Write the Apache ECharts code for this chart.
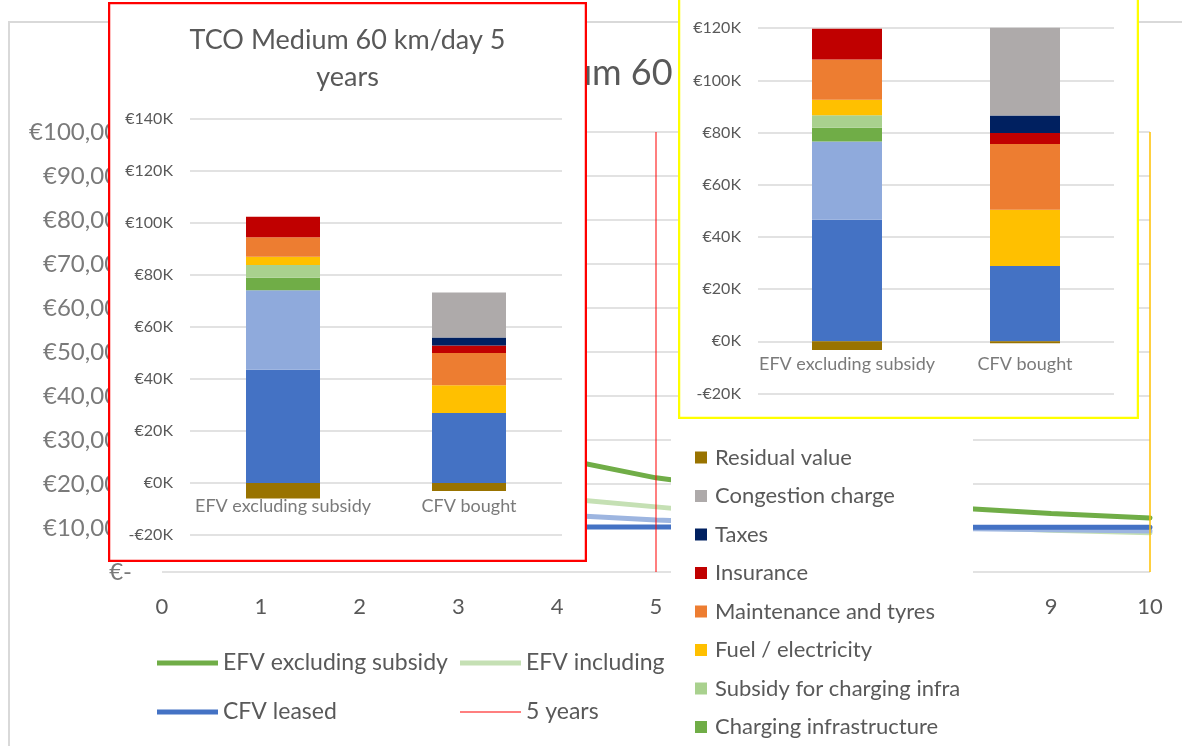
<!DOCTYPE html>
<html>
<head>
<meta charset="utf-8">
<script src="https://cdn.jsdelivr.net/npm/echarts@6/dist/echarts.min.js"></script>
<style>
  html, body { margin: 0; padding: 0; width: 1182px; height: 746px; overflow: hidden; background: #fff; }
  .pane { position: absolute; }
  #main  { left: 0; top: 0; width: 1182px; height: 746px; }
  #tco5  { left: 108px; top: 2px; width: 479px; height: 560px; }
  #tco10 { left: 678px; top: -60px; width: 461px; height: 479px; }
  #keys  { left: 671px; top: 425px; width: 302px; height: 470px; }
</style>
</head>
<body>
<div id="main" class="pane"></div>
<div id="tco5" class="pane"></div>
<div id="tco10" class="pane"></div>
<div id="keys" class="pane"></div>
<script>
// ---------- Annual TCO per year of ownership (EUR) ----------
const years = [1, 2, 3, 4, 5, 6, 7, 8, 9, 10];
const efvExcludingSubsidy = [94200, 48700, 33500, 25900, 21400, 18400, 16200, 14600, 13300, 12300];
const efvIncludingSubsidy = [62000, 32500, 22600, 16800, 14800, 12800, 11400, 10300, 9500, 8900];
const cfvBought           = [31800, 19300, 15100, 13000, 11800, 11000, 10400, 9900, 9600, 9300];
const cfvLeased           = [10300, 10300, 10250, 10250, 10200, 10200, 10200, 10150, 10150, 10150];
const horizonMarkers = [5, 10];            // ownership periods shown as vertical lines
const annualAxisMax = 100000;
const annualAxisStep = 10000;
const yearTicks = [0, 1, 2, 3, 4, 5, 6, 7, 8, 9, 10];

// ---------- TCO breakdown (thousand EUR) ----------
const vehicleCategories = ['EFV excluding subsidy', 'CFV bought'];
const componentNames = [
  'Vehicle purchase', 'Battery', 'Charging infrastructure', 'Subsidy for charging infra',
  'Fuel / electricity', 'Maintenance and tyres', 'Insurance', 'Taxes', 'Congestion charge', 'Residual value'
];
// 5 years
const vehicle5     = [43.6, 26.9];
const battery5     = [30.5, 0];
const charging5    = [4.8, 0];
const subsidy5     = [4.9, 0];
const fuel5        = [3.2, 10.7];
const maintenance5 = [7.5, 12.4];
const insurance5   = [7.9, 2.9];
const taxes5       = [0, 3.1];
const congestion5  = [0, 17.3];
const residual5    = [-6.0, -3.1];
// 10 years
const vehicle10     = [46.6, 28.9];
const battery10     = [30.0, 0];
const charging10    = [5.2, 0];
const subsidy10     = [4.8, 0];
const fuel10        = [6.0, 21.5];
const maintenance10 = [15.4, 25.2];
const insurance10   = [11.8, 4.2];
const taxes10       = [0, 6.7];
const congestion10  = [0, 33.7];
const residual10    = [-3.3, -0.7];
const tcoAxisTicks = { min: -20, max: 140, step: 20 };

const componentColors = {
  'Vehicle purchase': '#4472C4',
  'Battery': '#8FAADC',
  'Charging infrastructure': '#70AD47',
  'Subsidy for charging infra': '#A9D18E',
  'Fuel / electricity': '#FFC000',
  'Maintenance and tyres': '#ED7D31',
  'Insurance': '#C00000',
  'Taxes': '#002060',
  'Congestion charge': '#AEAAAA',
  'Residual value': '#997300'
};

const FONT = 'Lato, "Open Sans", sans-serif';
const TEXT = '#595959';
const GRID = '#d9d9d9';

// Width of a string rendered in the chart font.
function textWidth(text, size) {
  const ctx = document.createElement('canvas').getContext('2d');
  ctx.font = 'normal normal ' + size + 'px ' + FONT;
  return ctx.measureText(text).width;
}

// ---------- Line chart: annual cost by years of ownership ----------
const pairs = vals => years.map((y, i) => [y, vals[i]]);
const verticalMarker = x => [[x, 0], [x, annualAxisMax]];
const euro = v => v === 0 ? '€-' : '€' + v.toLocaleString('en-US');

// The main title runs behind the two breakdown panels; its visible middle
// part starts just right of the left panel.
const mainTitle = 'TCO Medium 60 km/day';
const mainTitleSize = 36;
const titleLeft = () => Math.max(
  592 - textWidth('TCO Mediu', mainTitleSize),
  680 - textWidth('TCO Medium 60 ', mainTitleSize)
);

const thickIcon = 'path://M0,0H61V5H0Z';
const thinIcon = 'path://M0,0H61V2H0Z';

const main = echarts.init(document.getElementById('main'), null, { renderer: 'canvas' });
main.setOption({
  animation: false,
  backgroundColor: '#fff',
  title: {
    text: mainTitle,
    left: titleLeft(), top: 55, padding: 0,
    textStyle: { fontFamily: FONT, fontSize: mainTitleSize, fontWeight: 'normal', color: TEXT }
  },
  graphic: [{
    type: 'rect', z: -1,
    shape: { x: 9, y: 22, width: 1200, height: 760 },
    style: { fill: 'none', stroke: GRID, lineWidth: 2 }
  }],
  grid: { left: 162, right: 32, top: 132, bottom: 174 },
  xAxis: {
    type: 'value', min: yearTicks[0], max: yearTicks[yearTicks.length - 1], interval: 1,
    axisLine: { show: false }, axisTick: { show: false }, splitLine: { show: false },
    axisLabel: { fontFamily: FONT, fontSize: 22, color: TEXT, margin: 24 }
  },
  yAxis: {
    type: 'value', min: 0, max: annualAxisMax, interval: annualAxisStep,
    axisLine: { show: false }, axisTick: { show: false },
    splitLine: { lineStyle: { color: GRID, width: 1.5 } },
    axisLabel: { fontFamily: FONT, fontSize: 24, color: '#7a7a7a', margin: 30, formatter: euro }
  },
  legend: {
    data: [
      { name: 'EFV excluding subsidy', icon: thickIcon },
      { name: 'EFV including subsidy', icon: thickIcon },
      { name: 'CFV bought', icon: thickIcon },
      { name: 'CFV leased', icon: thickIcon },
      { name: '5 years', icon: thinIcon },
      { name: '10 years', icon: thinIcon }
    ],
    left: 157, top: 641, width: 910, padding: 0,
    itemWidth: 61, itemHeight: 14, itemGap: 5, symbolKeepAspect: true,
    selectedMode: false,
    textStyle: { fontFamily: FONT, fontSize: 23, color: TEXT, width: 232, overflow: 'truncate', lineHeight: 44 }
  },
  series: [
    { name: 'EFV excluding subsidy', type: 'line', symbol: 'none', data: pairs(efvExcludingSubsidy),
      lineStyle: { width: 5, color: '#70AD47', cap: 'round' }, itemStyle: { color: '#70AD47' } },
    { name: 'EFV including subsidy', type: 'line', symbol: 'none', data: pairs(efvIncludingSubsidy),
      lineStyle: { width: 5, color: '#C5E0B4', cap: 'round' }, itemStyle: { color: '#C5E0B4' } },
    { name: 'CFV bought', type: 'line', symbol: 'none', data: pairs(cfvBought),
      lineStyle: { width: 5, color: '#9DB5E0', cap: 'round' }, itemStyle: { color: '#9DB5E0' } },
    { name: 'CFV leased', type: 'line', symbol: 'none', data: pairs(cfvLeased),
      lineStyle: { width: 5, color: '#4472C4', cap: 'round' }, itemStyle: { color: '#4472C4' } },
    { name: '5 years', type: 'line', symbol: 'none', clip: false, data: verticalMarker(horizonMarkers[0]),
      lineStyle: { width: 2, color: 'rgba(255,0,0,0.5)' }, itemStyle: { color: 'rgba(255,0,0,0.5)' } },
    { name: '10 years', type: 'line', symbol: 'none', clip: false, data: verticalMarker(horizonMarkers[1]),
      lineStyle: { width: 2, color: 'rgba(255,192,0,0.75)' }, itemStyle: { color: 'rgba(255,192,0,0.75)' } }
  ]
});

// Re-measure once the font face is ready, so the title lands where intended.
if (document.fonts && document.fonts.load) {
  document.fonts.load(mainTitleSize + 'px Lato', 'TCO Medium').then(() => {
    main.setOption({ title: { left: titleLeft() } });
  });
}

// ---------- Stacked TCO breakdown charts ----------
const kEuro = v => (v < 0 ? '-' : '') + '€' + Math.abs(v) + 'K';

function breakdownOption(parts, opts) {
  const series = componentNames.map((name, i) => ({
    name, type: 'bar', stack: 'tco', barWidth: opts.barWidth,
    data: parts[i],
    itemStyle: { color: componentColors[name] }
  }));
  // Category names sit just under the zero line, as in the spreadsheet original.
  series.push({
    type: 'scatter', silent: true, symbol: 'rect', symbolSize: 1,
    itemStyle: { color: 'rgba(0,0,0,0)' },
    data: vehicleCategories.map(c => [c, 0]),
    label: {
      show: true, position: 'bottom', distance: opts.labelGap,
      formatter: p => vehicleCategories[p.dataIndex],
      fontFamily: FONT, fontSize: 18, color: TEXT
    },
    z: 5
  });
  const option = {
    animation: false,
    backgroundColor: '#fff',
    graphic: [{
      type: 'rect', z: 100,
      shape: { x: 1, y: 1, width: opts.width - 2, height: opts.height - 2 },
      style: { fill: 'none', stroke: opts.border, lineWidth: 2.5 }
    }],
    grid: opts.grid,
    xAxis: {
      type: 'category', data: vehicleCategories,
      axisLine: { show: false }, axisTick: { show: false }, axisLabel: { show: false }
    },
    yAxis: {
      type: 'value', min: tcoAxisTicks.min, max: tcoAxisTicks.max, interval: tcoAxisTicks.step,
      axisLine: { show: false }, axisTick: { show: false },
      splitLine: { lineStyle: { color: GRID, width: 1.5 } },
      axisLabel: { fontFamily: FONT, fontSize: 16, color: TEXT, margin: 17, formatter: kEuro }
    },
    series
  };
  if (opts.title) {
    option.title = {
      text: opts.title, left: 'center', top: 15,
      textStyle: { fontFamily: FONT, fontSize: 27, fontWeight: 'normal', color: TEXT, lineHeight: 37 }
    };
  }
  return option;
}

const tco5 = echarts.init(document.getElementById('tco5'));
tco5.setOption(breakdownOption(
  [vehicle5, battery5, charging5, subsidy5, fuel5, maintenance5, insurance5, taxes5, congestion5, residual5],
  { width: 479, height: 560, border: '#FF0000', barWidth: 74, labelGap: 14,
    grid: { left: 82, right: 25, top: 117, bottom: 27 },
    title: 'TCO Medium 60 km/day 5\nyears' }
));

const tco10 = echarts.init(document.getElementById('tco10'));
tco10.setOption(breakdownOption(
  [vehicle10, battery10, charging10, subsidy10, fuel10, maintenance10, insurance10, taxes10, congestion10, residual10],
  { width: 461, height: 479, border: '#FFFF00', barWidth: 70, labelGap: 13,
    grid: { left: 80, right: 25, top: 36, bottom: 25.5 } }
));

// ---------- Component key ----------
const keys = echarts.init(document.getElementById('keys'));
keys.setOption({
  animation: false,
  backgroundColor: '#fff',
  grid: { show: false, left: -100, top: -100, width: 10, height: 10 },
  xAxis: { type: 'category', show: false, data: vehicleCategories },
  yAxis: { type: 'value', show: false },
  legend: {
    orient: 'vertical', left: 24, top: 20.5, padding: 0,
    data: componentNames.slice().reverse(),
    icon: 'rect', itemWidth: 12, itemHeight: 12, itemGap: 14.5,
    selectedMode: false,
    textStyle: { fontFamily: FONT, fontSize: 22, color: TEXT, lineHeight: 24, padding: [0, 0, 0, 3] }
  },
  series: componentNames.map(name => ({
    name, type: 'bar', data: [], itemStyle: { color: componentColors[name] }
  }))
});
</script>
</body>
</html>
